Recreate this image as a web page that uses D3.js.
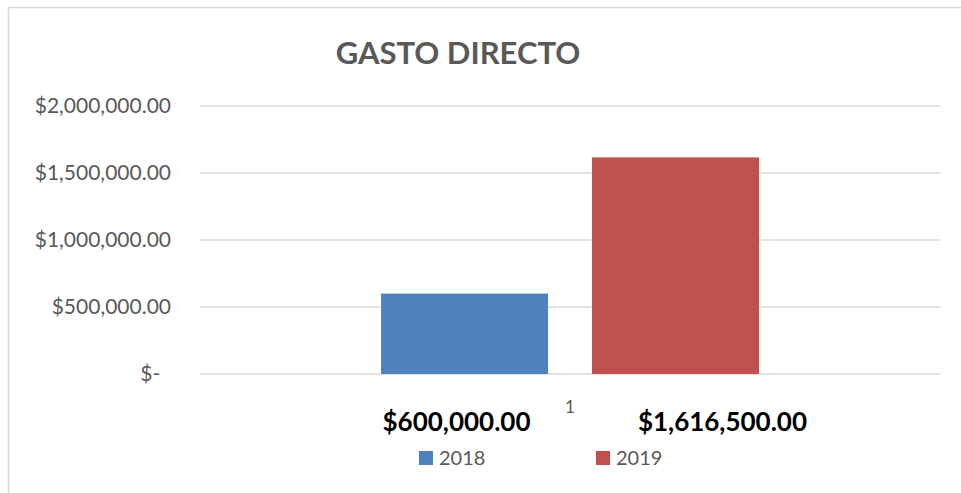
<!DOCTYPE html>
<html>
<head>
<meta charset="utf-8">
<script src="https://cdn.jsdelivr.net/npm/d3@7"></script>
<style>
  html, body { margin: 0; padding: 0; background: #fff; }
  svg { display: block; font-family: Lato, "Open Sans", sans-serif; }
</style>
</head>
<body>
<svg id="chart" width="961" height="493"></svg>
<script>
// ---- data ----
const categories = ["1"];
const seriesNames = ["2018", "2019"];
const seriesValues = [600000, 1616500];
const seriesColors = ["#4f81bd", "#c0504d"];
const yTicks = [0, 500000, 1000000, 1500000, 2000000];
const title = "GASTO DIRECTO";

// ---- layout ----
const W = 961, H = 493;
const margin = { left: 200, right: 21, top: 106, bottom: 119 };
const svg = d3.select("#chart");

// outer border of chart area
svg.append("rect")
  .attr("x", 8.5).attr("y", 7.5)
  .attr("width", W + 10).attr("height", H + 10)
  .attr("fill", "#fff").attr("stroke", "#d9d9d9").attr("stroke-width", 1.5);

const x0 = d3.scaleBand().domain(categories).range([margin.left, W - margin.right]).paddingInner(0).paddingOuter(0.479);
const x1 = d3.scaleBand().domain(seriesNames).range([0, x0.bandwidth()]).paddingInner(0.2085);
const y = d3.scaleLinear().domain([0, 2000000]).range([H - margin.bottom, margin.top]);

// gridlines
svg.append("g").selectAll("line").data(yTicks).join("line")
  .attr("x1", margin.left).attr("x2", W - margin.right)
  .attr("y1", d => y(d)).attr("y2", d => y(d))
  .attr("stroke", "#d9d9d9").attr("stroke-width", 1.5);

// y-axis labels
const fmt = d3.format("$,.2f");
const yAxis = d3.axisLeft(y).tickValues(yTicks).tickSize(0).tickPadding(29)
  .tickFormat(d => d === 0 ? "$-\u00A0\u00A0" : fmt(d));
const gy = svg.append("g").attr("transform", `translate(${margin.left},0)`).call(yAxis);
gy.select(".domain").remove();
gy.selectAll("text").attr("fill", "#595959").style("font-size", "21px").style("font-family", "Lato, sans-serif");

// bars
const barData = seriesNames.map((s, i) => ({ series: s, cat: categories[0], value: seriesValues[i], color: seriesColors[i] }));
svg.append("g").selectAll("rect").data(barData).join("rect")
  .attr("x", d => x0(d.cat) + x1(d.series))
  .attr("y", d => y(d.value))
  .attr("width", x1.bandwidth())
  .attr("height", d => y(0) - y(d.value))
  .attr("fill", d => d.color);

// category label
svg.append("g").selectAll("text").data(categories).join("text")
  .attr("x", d => x0(d) + x0.bandwidth() / 2)
  .attr("y", y(0) + 39)
  .attr("text-anchor", "middle")
  .attr("fill", "#595959")
  .style("font-size", "17px")
  .text(d => d);

// data labels (placed below axis as in original)
const labelShift = [-8, 47];
svg.append("g").selectAll("text").data(barData).join("text")
  .attr("x", (d, i) => x0(d.cat) + x1(d.series) + x1.bandwidth() / 2 + labelShift[i])
  .attr("y", y(0) + 57)
  .attr("text-anchor", "middle")
  .attr("fill", "#000")
  .style("font-size", "26px")
  .style("font-weight", "bold")
  .text(d => fmt(d.value));

// title
svg.append("text")
  .attr("x", 458).attr("y", 64)
  .attr("text-anchor", "middle")
  .attr("fill", "#595959")
  .style("font-size", "31px")
  .style("font-weight", "bold")
  .text(title);

// legend
const legendX = [419, 596];
const lg = svg.append("g").selectAll("g").data(barData).join("g")
  .attr("transform", (d, i) => `translate(${legendX[i]},451)`);
lg.append("rect").attr("width", 14).attr("height", 14).attr("fill", d => d.color);
lg.append("text").attr("x", 20).attr("y", 14)
  .attr("fill", "#595959").style("font-size", "20px")
  .text(d => d.series);
</script>
</body>
</html>
